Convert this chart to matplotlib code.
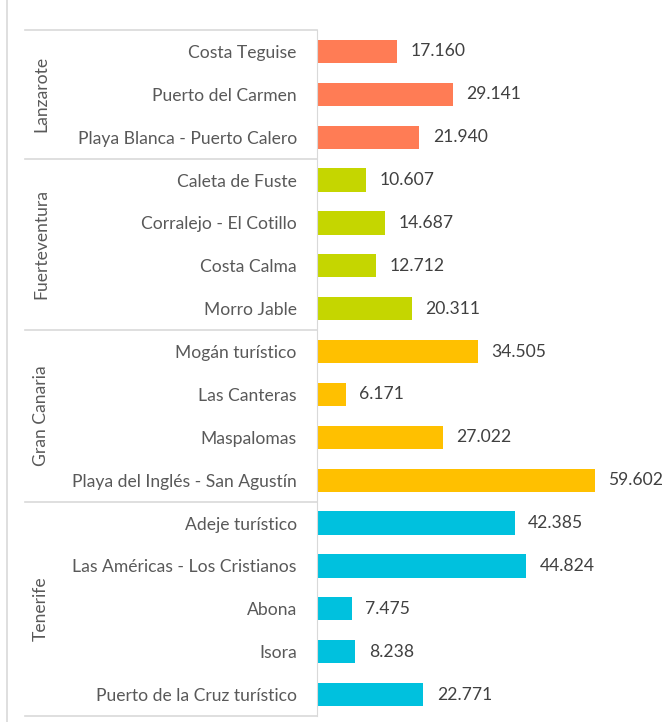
import matplotlib.pyplot as plt
from matplotlib.lines import Line2D

# data, top to bottom
islas = ["Lanzarote", "Fuerteventura", "Gran Canaria", "Tenerife"]
zonas = [
    ["Costa Teguise", "Puerto del Carmen", "Playa Blanca - Puerto Calero"],
    ["Caleta de Fuste", "Corralejo - El Cotillo", "Costa Calma", "Morro Jable"],
    ["Mogán turístico", "Las Canteras", "Maspalomas", "Playa del Inglés - San Agustín"],
    ["Adeje turístico", "Las Américas - Los Cristianos", "Abona", "Isora",
     "Puerto de la Cruz turístico"],
]
plazas = [
    [17160, 29141, 21940],
    [10607, 14687, 12712, 20311],
    [34505, 6171, 27022, 59602],
    [42385, 44824, 7475, 8238, 22771],
]
colores = ["#FF7C55", "#C5D600", "#FFC000", "#00C1DE"]

plt.rcParams['font.family'] = ['Lato', 'DejaVu Sans']

fig = plt.figure(figsize=(6.62, 7.22), dpi=100)
W, H = 662, 722
ax_left, ax_top, ax_bot = 317, 30, 716
ax = fig.add_axes([ax_left / W, 1 - ax_bot / H, 1 - ax_left / W, (ax_bot - ax_top) / H])

labels, values, cols = [], [], []
for names, vals, c in zip(zonas, plazas, colores):
    labels += names
    values += vals
    cols += [c] * len(names)

n = len(labels)
ypos = list(range(n))
ax.barh(ypos, values, height=0.54, color=cols)
ax.set_ylim(n - 0.5, -0.5)
ax.set_xlim(0, 74000)
for y, v in zip(ypos, values):
    ax.text(v + 2900, y, f"{v:,}".replace(",", "."), va='center', ha='left',
            fontsize=12.6, color='#404040')

ax.set_yticks(ypos)
ax.set_yticklabels(labels, fontsize=12.6, color='#595959')
ax.tick_params(axis='y', length=0, pad=14.5)
ax.set_xticks([])
for s in ['top', 'right', 'bottom']:
    ax.spines[s].set_visible(False)
ax.spines['left'].set_color('#D9D9D9')

# separators and group names on the left
row_h = (ax_bot - ax_top) / n
start = 0
bounds = [0]
for names, isla in zip(zonas, islas):
    end = start + len(names)
    mid = ax_top + row_h * (start + end) / 2
    fig.text(41 / W, 1 - mid / H, isla, rotation=90, ha='center', va='center',
             fontsize=12.6, color='#595959')
    bounds.append(end)
    start = end
for b in bounds:
    yy = 1 - (ax_top + row_h * b) / H
    fig.add_artist(Line2D([25 / W, ax_left / W], [yy, yy], color='#D9D9D9', lw=1.2))

# chart area border on the left
fig.add_artist(Line2D([7 / W, 7 / W], [0, 1], color='#D9D9D9', lw=1.2))

fig.savefig("out.png", dpi=100)
